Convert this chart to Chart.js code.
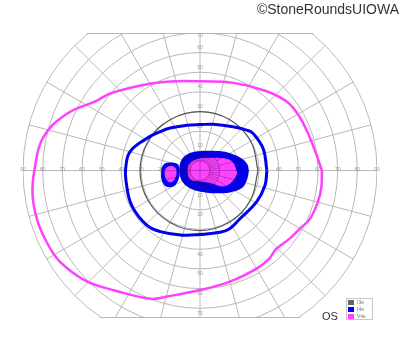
<!DOCTYPE html>
<html>
<head>
<meta charset="utf-8">
<script src="https://cdn.jsdelivr.net/npm/chart.js@4.4.0/dist/chart.umd.min.js"></script>
<style>
body{margin:0;background:#fff;}
#wrap{width:400px;height:352px;}
</style>
</head>
<body>
<div id="wrap"><canvas id="field" width="400" height="352"></canvas></div>
<script>
// isopters: meridian angle (deg, 0 = right, counter-clockwise) + eccentricity (deg)
var i3eAngles = [0, 30, 60, 90, 120, 150, 180, 210, 240, 270, 300, 330];
var i3eEcc    = [29.5, 29.8, 30, 30, 30, 30.3, 30.5, 30.5, 30.5, 30.5, 30.2, 29.7];

var i4eAngles = [0, 19, 35, 41, 53, 74, 90, 106, 125, 136, 150, 165, 178, 188, 207, 226, 237, 255, 270, 288, 297, 310, 331, 347];
var i4eEcc    = [34, 34, 33, 31.4, 27.9, 24.5, 23.4, 24, 26.5, 28.4, 32, 36.9, 37.8, 38, 39, 38.8, 37, 34, 32.5, 33, 33.2, 31.8, 32.9, 33.9];

var v4eAngles = [0, 9, 20, 29, 38, 50, 69, 90, 104, 120, 139, 146, 157, 168, 179, 188, 197, 205, 213, 224, 235, 249, 255, 270, 285, 300, 308, 314, 323, 330, 336, 345, 352];
var v4eEcc    = [62, 59.5, 58, 57.5, 56.5, 52.7, 47.8, 45.4, 46.9, 51, 60, 63.5, 73.7, 81.5, 84, 86, 86.5, 86, 85, 80.7, 74.6, 69.9, 66.4, 60.8, 58.5, 57.6, 57, 55.6, 57.3, 58.8, 61, 62, 62.3];

// central seeing areas (filled)
var blueCoreAngles = [-1, 7, 15, 29, 45, 75, 115, 144, 178, 213, 245, 283, 314, 326, 339, 349];
var blueCoreEcc    = [24.5, 24, 22, 17.5, 13.5, 10, 9.8, 10.5, 10.2, 10.2, 9.9, 11, 15.5, 19, 23, 24];
var pinkCoreAngles = [-4, 14, 25, 51, 100, 145, 175, 219, 270, 313, 326, 340];
var pinkCoreEcc    = [18.8, 17, 14, 8, 5.8, 6.2, 6.0, 6.5, 5.3, 8.5, 14, 17];

var blueIslandAngles = [177, 169.5, 165.9, 165.4, 180, 200, 209.2, 208.1, 201.8, 191.9];
var blueIslandEcc    = [19.3, 18.1, 15.2, 12.1, 10.7, 11.9, 14.6, 17.3, 19.2, 19.7];
var pinkIslandAngles = [180, 174.8, 172.1, 174.3, 184.8, 195.6, 201.4, 198.2, 189.9];
var pinkIslandEcc    = [17.8, 16.8, 14.9, 12.8, 12.2, 13.2, 15.3, 17.1, 17.8];

var ringTicks = [10, 20, 30, 40, 50, 60, 70, 80, 90];
var legendNames = ['I3e', 'I4e', 'V4e'];
var legendColors = ['#666666', '#0000ff', '#ff44ff'];

var eyeLabel = 'OS';
var credit = '\u00a9StoneRoundsUIOWA';

function toPoints(angles, ecc) {
    var pts = [];
    for (var i = 0; i <= angles.length; i++) {
        var j = i % angles.length;
        var t = angles[j] * Math.PI / 180;
        pts.push({x: ecc[j] * Math.cos(t), y: ecc[j] * Math.sin(t)});
    }
    return pts;
}

function gridLines(ctx, cx, cy, k) {
    var rMax = 90 * k;
    // rings
    ctx.beginPath();
    ctx.arc(cx, cy, 5 * k, 0, 2 * Math.PI);
    for (var i = 0; i < ringTicks.length; i++) {
        ctx.moveTo(cx + ringTicks[i] * k, cy);
        ctx.arc(cx, cy, ringTicks[i] * k, 0, 2 * Math.PI);
    }
    ctx.stroke();
    // meridians every 15 deg
    ctx.beginPath();
    for (var a = 0; a < 360; a += 15) {
        var t = a * Math.PI / 180;
        var r0 = (a % 90 === 0) ? 0 : 5 * k;
        ctx.moveTo(cx + r0 * Math.cos(t), cy - r0 * Math.sin(t));
        ctx.lineTo(cx + rMax * Math.cos(t), cy - rMax * Math.sin(t));
    }
    // short ones in the central 10
    for (var b = 7.5; b < 360; b += 15) {
        var u = b * Math.PI / 180;
        ctx.moveTo(cx + 5 * k * Math.cos(u), cy - 5 * k * Math.sin(u));
        ctx.lineTo(cx + 10 * k * Math.cos(u), cy - 10 * k * Math.sin(u));
    }
    ctx.stroke();
}

var fieldGrid = {
    id: 'fieldGrid',
    beforeDatasetsDraw: function(chart) {
        var ctx = chart.ctx, a = chart.chartArea;
        var sx = chart.scales.x, sy = chart.scales.y;
        var cx = sx.getPixelForValue(0), cy = sy.getPixelForValue(0);
        var k = sx.getPixelForValue(1) - cx;
        ctx.save();
        ctx.beginPath();
        ctx.rect(a.left, a.top, a.right - a.left, a.bottom - a.top);
        ctx.clip();
        ctx.beginPath();
        ctx.arc(cx, cy, 90 * k + 1, 0, 2 * Math.PI);
        ctx.clip();
        ctx.strokeStyle = '#b8b8b8';
        ctx.lineWidth = 1;
        gridLines(ctx, cx, cy, k);
        // top / bottom edge of the field
        ctx.beginPath();
        ctx.moveTo(a.left, a.top + 0.5);
        ctx.lineTo(a.right, a.top + 0.5);
        ctx.moveTo(a.left, a.bottom - 0.5);
        ctx.lineTo(a.right, a.bottom - 0.5);
        ctx.stroke();
        ctx.restore();

        // tick labels on the axes
        ctx.save();
        ctx.font = "5px 'Liberation Sans', Arial, sans-serif";
        ctx.fillStyle = '#999';
        ctx.textAlign = 'center';
        ctx.textBaseline = 'middle';
        for (var i = 0; i < ringTicks.length; i++) {
            var d = ringTicks[i] * k;
            ctx.fillText(String(ringTicks[i]), cx - d, cy - 1);
            ctx.fillText(String(ringTicks[i]), cx + d, cy - 1);
            if (cy - d - 5 > a.top) ctx.fillText(String(ringTicks[i]), cx, cy - d - 5);
            else if (cy - d > a.top - 2) ctx.fillText(String(ringTicks[i]), cx, a.top + 3);
            if (cy + d + 5 < a.bottom) ctx.fillText(String(ringTicks[i]), cx, cy + d + 5);
        }
        ctx.restore();
    },
    afterDatasetsDraw: function(chart) {
        var ctx = chart.ctx;
        var sx = chart.scales.x, sy = chart.scales.y;
        var cx = sx.getPixelForValue(0), cy = sy.getPixelForValue(0);
        var k = sx.getPixelForValue(1) - cx;
        // grid shows through the filled areas
        ctx.save();
        ctx.beginPath();
        chart.data.datasets.forEach(function(ds, n) {
            if (ds.fill !== 'shape') return;
            var pts = chart.getDatasetMeta(n).data;
            pts.forEach(function(p, m) {
                if (m === 0) ctx.moveTo(p.x, p.y); else ctx.lineTo(p.x, p.y);
            });
            ctx.closePath();
        });
        ctx.clip();
        ctx.strokeStyle = 'rgba(40,0,60,0.3)';
        ctx.lineWidth = 1;
        gridLines(ctx, cx, cy, k);
        ctx.restore();
    },
    afterDraw: function(chart) {
        var ctx = chart.ctx;
        ctx.save();
        ctx.fillStyle = '#333';
        ctx.font = "14px 'Liberation Sans', Arial, sans-serif";
        ctx.textAlign = 'right';
        ctx.textBaseline = 'alphabetic';
        ctx.fillText(credit, 399, 14);
        ctx.textAlign = 'left';
        ctx.font = "11px 'Liberation Sans', Arial, sans-serif";
        ctx.fillText(eyeLabel, 322, 320);
        // legend
        ctx.fillStyle = '#fff';
        ctx.fillRect(346, 298, 27, 22);
        ctx.strokeStyle = '#c8c8c8';
        ctx.lineWidth = 1;
        ctx.strokeRect(346.5, 298.5, 26, 21);
        ctx.font = "5px 'Liberation Sans', Arial, sans-serif";
        ctx.textBaseline = 'middle';
        for (var i = 0; i < legendNames.length; i++) {
            ctx.fillStyle = legendColors[i];
            ctx.fillRect(348, 300 + i * 7, 6, 5);
            ctx.fillStyle = '#777';
            ctx.fillText(legendNames[i], 357, 302.5 + i * 7);
        }
        ctx.restore();
    }
};

new Chart(document.getElementById('field'), {
    type: 'scatter',
    data: {
        datasets: [
            { label: 'V4e', data: toPoints(pinkCoreAngles, pinkCoreEcc), showLine: true, fill: 'shape',
              backgroundColor: '#ff44ff', borderColor: '#ff44ff', borderWidth: 1, tension: 0.4 },
            { label: 'V4e', data: toPoints(pinkIslandAngles, pinkIslandEcc), showLine: true, fill: 'shape',
              backgroundColor: '#ff44ff', borderColor: '#ff44ff', borderWidth: 1, tension: 0.4 },
            { label: 'I4e', data: toPoints(blueCoreAngles, blueCoreEcc), showLine: true, fill: 'shape',
              backgroundColor: '#0000ee', borderColor: '#0000ee', borderWidth: 1.5, tension: 0.4 },
            { label: 'I4e', data: toPoints(blueIslandAngles, blueIslandEcc), showLine: true, fill: 'shape',
              backgroundColor: '#0000ee', borderColor: '#0000ee', borderWidth: 1.5, tension: 0.4 },
            { label: 'V4e', data: toPoints(v4eAngles, v4eEcc), showLine: true, fill: false,
              borderColor: '#ff40ff', borderWidth: 2.5, tension: 0.4 },
            { label: 'I4e', data: toPoints(i4eAngles, i4eEcc), showLine: true, fill: false,
              borderColor: '#0000ee', borderWidth: 3, tension: 0.4 },
            { label: 'I3e', data: toPoints(i3eAngles, i3eEcc), showLine: true, fill: false,
              borderColor: '#555555', borderWidth: 1.2, tension: 0.4 }
        ]
    },
    options: {
        responsive: false,
        animation: false,
        layout: { padding: { left: 23, right: 23, top: 33, bottom: 34 } },
        elements: { point: { radius: 0, hoverRadius: 0 } },
        scales: {
            x: { type: 'linear', min: -90, max: 90, display: false },
            y: { type: 'linear', min: -75, max: 70, display: false }
        },
        plugins: {
            legend: { display: false },
            tooltip: { enabled: false }
        }
    },
    plugins: [fieldGrid]
});
</script>
</body>
</html>
